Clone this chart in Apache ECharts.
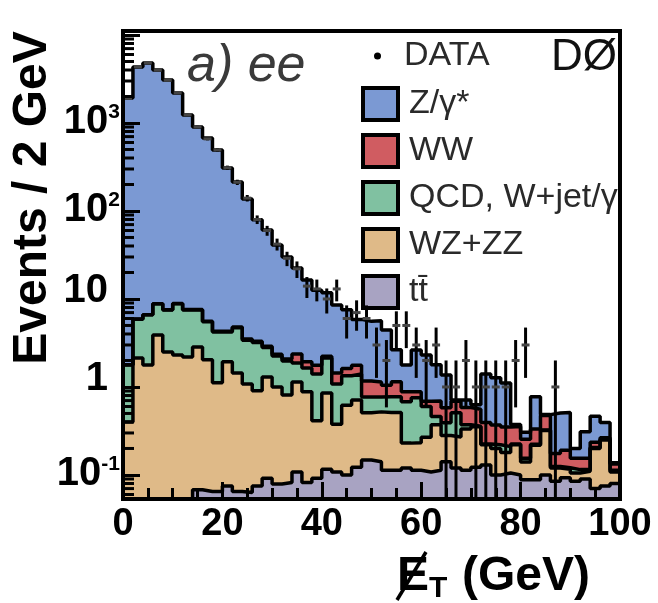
<!DOCTYPE html>
<html>
<head>
<meta charset="utf-8">
<title>Missing ET, ee channel</title>
<script src="https://cdn.jsdelivr.net/npm/echarts@6/dist/echarts.min.js"></script>
<style>
  html, body { margin: 0; padding: 0; background: #fff; }
  #chart { width: 658px; height: 603px; }
</style>
</head>
<body>
<div id="chart"></div>
<script>
  // bins: lower edge in GeV, 2 GeV wide
  const binLow = [0, 2, 4, 6, 8, 10, 12, 14, 16, 18,
    20, 22, 24, 26, 28, 30, 32, 34, 36, 38,
    40, 42, 44, 46, 48, 50, 52, 54, 56, 58,
    60, 62, 64, 66, 68, 70, 72, 74, 76, 78,
    80, 82, 84, 86, 88, 90, 92, 94, 96, 98]
  const binWidth = 2

  // MC, events / 2 GeV, stacked from bottom to top
  const ttbar = [0.01, 0.02, 0.03, 0.03, 0.04, 0.04, 0.05, 0.068, 0.065, 0.065,
    0.075, 0.065, 0.063, 0.075, 0.092, 0.079, 0.082, 0.108, 0.082, 0.092,
    0.116, 0.108, 0.10, 0.122, 0.148, 0.141, 0.113, 0.113, 0.12, 0.113,
    0.108, 0.113, 0.141, 0.12, 0.113, 0.122, 0.13, 0.10, 0.105, 0.10,
    0.088, 0.088, 0.10, 0.085, 0.093, 0.085, 0.09, 0.07, 0.075, 0.08]
  const wzzz = [0.39, 2.12, 1.75, 3.87, 2.46, 2.27, 2.14, 2.78, 1.97, 1.05,
    1.86, 1.38, 1.02, 0.83, 1.21, 0.92, 0.73, 1.03, 0.80, 0.32,
    0.74, 0.27, 0.52, 0.59, 0.36, 0.38, 0.40, 0.40, 0.11, 0.12,
    0.16, 0.26, 0.14, 0.15, 0.22, 0.23, 0.09, 0.10, 0.075, 0.12,
    0.052, 0.13, 0.22, 0.035, 0.023, 0.02, 0.02, 0.13, 0.175, 0.028]
  const qcd = [1.38, 3.76, 4.82, 4.9, 5.0, 6.49, 5.31, 4.65, 3.47, 3.09,
    2.27, 3.26, 2.32, 2.3, 1.5, 1.25, 1.16, 0.73, 0.76, 0.99,
    1.28, 0.70, 0.72, 0.69, 0.26, 0.25, 0.26, 0.26, 0.45, 0.52,
    0.33, 0.09, 0.11, 0.24, 0.04, 0.005, 0.005, 0.02, 0.03, 0.005,
    0.015, 0.005, 0.005, 0.005, 0.005, 0.01, 0.005, 0.005, 0.005, 0.005]
  const ww = [0.01, 0.02, 0.03, 0.04, 0.05, 0.06, 0.07, 0.08, 0.08, 0.09,
    0.1, 0.1, 0.1, 0.1, 0.1, 0.1, 0.1, 0.5, 0.29, 0.36,
    0.1, 0.36, 0.28, 0.36, 0.4, 0.37, 0.27, 0.37, 0.2, 0.13,
    0.09, 0.23, 0.19, 0.18, 0.21, 0.2, 0.17, 0.15, 0.14, 0.13,
    0.1, 0.11, 0.15, 0.05, 0.07, 0.04, 0.04, 0.03, 0.01, 0.02]
  const zgamma = [1918, 4324, 4793, 3991, 3072, 2181, 1222, 892, 670, 490,
    304, 209, 133, 76, 58, 38.6, 27.9, 20.1, 14.5, 10.8,
    9.5, 7.1, 5.9, 4.1, 4.4, 4.5, 3.4, 1.5, 0.9, 1.75,
    1.62, 1.09, 0.79, 0.02, 0.13, 0.07, 1.01, 0.9, 0.76, 0.02,
    0.05, 0.44, 0.01, 0.33, 0.32, 0.045, 0.155, 0.23, 0.13, 0.005]

  // observed events per bin
  const dataCounts = [1905, 4350, 4810, 3990, 3060, 2200, 1240, 905, 660, 495,
    310, 212, 140, 80, 60, 42, 29, 22, 14, 13,
    10, 13, 6, 7, 6, 3, 2, 5, 5, 3,
    2, 3, 1, 1, 2, 1, 1, 1, 1, 2,
    3, 0, 0, 1, 0, 0, 0, 0, 0, 0]

  const Y_MIN = 0.0533
  const Y_MAX = 11100
  const FONT = '"Liberation Sans", Arial, sans-serif'

  // bottom to top
  const layers = [
    {name: 'tt\u0304', vals: ttbar, color: '#a8a3c2'},
    {name: 'WZ+ZZ', vals: wzzz, color: '#dfba88'},
    {name: 'QCD, W+jet/\u03b3', vals: qcd, color: '#80c1a1'},
    {name: 'WW', vals: ww, color: '#d05c61'},
    {name: 'Z/\u03b3*', vals: zgamma, color: '#7b99d3'}
  ]

  // running sums -> top edge of each layer in the stack
  let running = binLow.map(() => 0)
  layers.forEach(l => {
    running = running.map((s, i) => s + l.vals[i])
    l.cum = running
  })

  // histogram as step points on the bin edges
  function stepPoints(vals) {
    const pts = binLow.map((x, i) => [x, vals[i]])
    pts.push([binLow[binLow.length - 1] + binWidth, vals[vals.length - 1]])
    return pts
  }

  function yLabel(v) {
    const p = Math.log10(v)
    const e = Math.round(p)
    if (Math.abs(p - e) > 1e-6 || e > 3) return ''
    if (e === 0) return '{p|1}'
    if (e === 1) return '{p|10}'
    return '{b|10}{e|' + e + '}'
  }

  // minor ticks of the log axis (2..9 per decade)
  const minorTicks = []
  for (let k = -2; k <= 4; k++) {
    for (let m = 2; m <= 9; m++) {
      const v = m * Math.pow(10, k)
      if (v > Y_MIN && v < Y_MAX) minorTicks.push([0, v])
    }
  }

  // painted from the top of the stack down, each filled to the axis
  const areaSeries = [...layers].reverse().map(l => ({
    name: l.name,
    type: 'line',
    step: 'end',
    symbol: 'none',
    silent: true,
    z: 2,
    data: stepPoints(l.cum),
    itemStyle: {color: l.color},
    lineStyle: {width: 0, opacity: 0},
    areaStyle: {color: l.color, opacity: 1, origin: Y_MIN}
  }))

  const outlineSeries = layers.map(l => ({
    name: l.name + ' line',
    type: 'line',
    step: 'end',
    symbol: 'none',
    silent: true,
    z: 3,
    data: stepPoints(l.cum),
    lineStyle: {color: '#000', width: 3.5}
  }))

  const dataSeries = {
    name: 'DATA',
    type: 'custom',
    silent: true,
    clip: true,
    z: 4,
    itemStyle: {color: '#000'},
    data: dataCounts.map((n, i) => [binLow[i] + binWidth / 2, n]).filter(d => d[1] > 0),
    encode: {x: 0, y: 1},
    renderItem(params, api) {
      const x = api.value(0)
      const n = api.value(1)
      const err = Math.sqrt(n)
      const top = api.coord([x, n + err])
      const low = api.coord([x, Math.max(n - err, Y_MIN)])
      const l = api.coord([x - binWidth / 2, n])
      const r = api.coord([x + binWidth / 2, n])
      return {
        type: 'group',
        children: [
          {type: 'line', shape: {x1: top[0], y1: top[1], x2: low[0], y2: low[1]},
            style: {stroke: '#000', lineWidth: 3}},
          {type: 'line', shape: {x1: l[0] + 1, y1: l[1], x2: r[0] - 1, y2: r[1]},
            style: {stroke: '#444', lineWidth: 3}}
        ]
      }
    }
  }

  const minorTickSeries = {
    name: 'minor',
    type: 'custom',
    silent: true,
    z: 11,
    data: minorTicks,
    encode: {x: 0, y: 1},
    renderItem(params, api) {
      const p = api.coord([api.value(0), api.value(1)])
      return {type: 'line', shape: {x1: p[0], y1: p[1], x2: p[0] + 11, y2: p[1]},
        style: {stroke: '#000', lineWidth: 3}}
    }
  }

  const chart = echarts.init(document.getElementById('chart'), null, {renderer: 'canvas'})

  chart.setOption({
    animation: false,
    backgroundColor: '#fff',
    textStyle: {fontFamily: FONT},
    grid: {left: 123, right: 38, top: 31, bottom: 104, show: true,
      borderColor: '#000', borderWidth: 4, z: 10},
    legend: [
      {
        data: [{name: 'DATA', icon: 'circle', itemStyle: {color: '#000', borderWidth: 0}}],
        left: 369, top: 34, itemWidth: 7, itemHeight: 7,
        selectedMode: false,
        textStyle: {fontSize: 34, color: '#2a2a2a', fontFamily: FONT, padding: [0, 0, 0, 18]}
      },
      {
        data: [...layers].reverse().map(l => ({
          name: l.name, icon: 'rect',
          itemStyle: {color: l.color, borderColor: '#000', borderWidth: 4}
        })),
        orient: 'vertical', left: 356, top: 81, itemWidth: 35, itemHeight: 32, itemGap: 11,
        selectedMode: false,
        textStyle: {fontSize: 34, color: '#2a2a2a', fontFamily: FONT, padding: [0, 0, 0, 6]}
      }
    ],
    xAxis: {
      type: 'value', min: 0, max: 100, interval: 20, z: 10,
      axisLine: {lineStyle: {color: '#000', width: 4}},
      axisTick: {inside: true, length: 17, lineStyle: {color: '#000', width: 3}},
      minorTick: {show: true, splitNumber: 4, length: 11, lineStyle: {color: '#000', width: 3}},
      splitLine: {show: false},
      axisLabel: {fontSize: 38, fontWeight: 'bold', color: '#000', margin: 7, fontFamily: FONT}
    },
    yAxis: {
      type: 'log', logBase: 10, min: Y_MIN, max: Y_MAX, z: 10,
      axisLine: {lineStyle: {color: '#000', width: 4}},
      axisTick: {inside: true, length: 17, lineStyle: {color: '#000', width: 3}},
      splitLine: {show: false},
      axisLabel: {
        margin: 3, color: '#000', fontFamily: FONT,
        formatter: yLabel,
        rich: {
          p: {fontSize: 40, fontWeight: 'bold', fontFamily: FONT, padding: [0, 12, 16, 0]},
          b: {fontSize: 40, fontWeight: 'bold', fontFamily: FONT, verticalAlign: 'middle', padding: [0, 0, 2, 0]},
          e: {fontSize: 21, fontWeight: 'bold', fontFamily: FONT, verticalAlign: 'top', lineHeight: 21, padding: [0, 0, 50, 0]}
        }
      }
    },
    graphic: [
      {type: 'text', x: 33, y: 198, rotation: Math.PI / 2, silent: true,
        style: {text: 'Events / 2 GeV', fontSize: 48, fontWeight: 'bold', fontFamily: FONT,
          fill: '#000', align: 'center', verticalAlign: 'middle', textAlign: 'center', textVerticalAlign: 'middle'}},
      // slashed E of the missing transverse energy
      {type: 'text', x: 397, y: 577, silent: true,
        style: {text: 'E', fontSize: 48, fontWeight: 'bold', fontFamily: FONT, fill: '#000',
          align: 'left', verticalAlign: 'middle', textAlign: 'left', textVerticalAlign: 'middle'}},
      {type: 'line', silent: true,
        shape: {x1: 397, y1: 600, x2: 426, y2: 552},
        style: {stroke: '#000', lineWidth: 3.5}},
      {type: 'text', x: 429, y: 589, silent: true,
        style: {text: 'T', fontSize: 30, fontWeight: 'bold', fontFamily: FONT, fill: '#000',
          align: 'left', verticalAlign: 'middle', textAlign: 'left', textVerticalAlign: 'middle'}},
      {type: 'text', x: 462, y: 577, silent: true,
        style: {text: '(GeV)', fontSize: 48, fontWeight: 'bold', fontFamily: FONT, fill: '#000',
          align: 'left', verticalAlign: 'middle', textAlign: 'left', textVerticalAlign: 'middle'}},
      {type: 'text', x: 187, y: 67, silent: true,
        style: {text: 'a) ee', fontSize: 52, fontStyle: 'italic', fontFamily: FONT, fill: '#3a3a3a',
          align: 'left', verticalAlign: 'middle', textAlign: 'left', textVerticalAlign: 'middle'}},
      {type: 'text', x: 617, y: 58, silent: true,
        style: {text: 'D\u00d8', fontSize: 44, fontFamily: FONT, fill: '#111',
          align: 'right', verticalAlign: 'middle', textAlign: 'right', textVerticalAlign: 'middle'}}
    ],
    series: [...areaSeries, ...outlineSeries, dataSeries, minorTickSeries]
  })
</script>
</body>
</html>
